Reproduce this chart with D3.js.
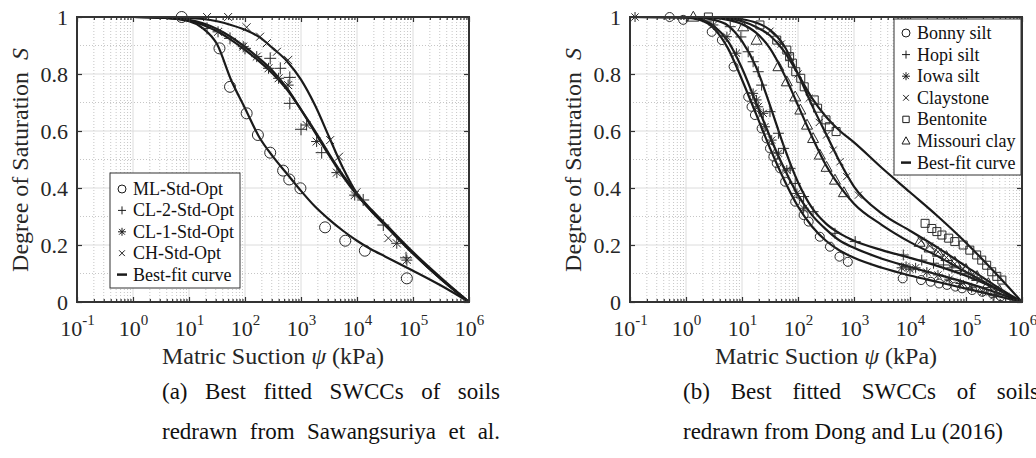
<!DOCTYPE html>
<html>
<head>
<meta charset="utf-8">
<script src="https://cdn.jsdelivr.net/npm/d3@7"></script>
<style>
  body { margin: 0; background: #fff; width: 1036px; height: 458px; overflow: hidden; position: relative;
         font-family: "Liberation Serif", "Times New Roman", serif; }
  svg text { font-family: "Liberation Serif", "Times New Roman", serif !important; }
  .cap { position: absolute; font-size: 23px; color: #111; line-height: 40px; white-space: nowrap; }
  .cap div { text-align: justify; text-align-last: justify; white-space: normal; }
  .cap div.last { text-align-last: left; }
</style>
</head>
<body>
<svg id="chart" width="1036" height="458"></svg>
<div class="cap" style="left:162px; top:372px; width:338px;">
  <div>(a) Best fitted SWCCs of soils</div>
  <div>redrawn from Sawangsuriya et al.</div>
</div>
<div class="cap" style="left:683px; top:372px; width:356px;">
  <div>(b) Best fitted SWCCs of soils</div>
  <div class="last">redrawn from Dong and Lu (2016)</div>
</div>
<script>
// ---- panel (a): Sawangsuriya et al. ----
// suction values (kPa) at which the best-fit curves were read
var psiA = [0.1, 1, 3.16, 10, 17.8, 31.6, 56.2, 100, 178, 316, 562, 1000, 1780, 3160, 5620, 10000, 17800, 31600, 100000, 316000, 1000000];
var fitML  = [1, 1, 0.998, 0.985, 0.96, 0.905, 0.78, 0.68, 0.58, 0.51, 0.45, 0.39, 0.335, 0.29, 0.25, 0.215, 0.185, 0.16, 0.11, 0.058, 0];
var fitCL2 = [1, 1, 0.998, 0.99, 0.978, 0.958, 0.93, 0.895, 0.855, 0.81, 0.75, 0.675, 0.595, 0.515, 0.44, 0.375, 0.32, 0.27, 0.17, 0.08, 0];
var fitCL1 = [1, 1, 0.998, 0.988, 0.972, 0.95, 0.92, 0.885, 0.845, 0.8, 0.745, 0.675, 0.6, 0.52, 0.445, 0.38, 0.325, 0.275, 0.175, 0.085, 0];
var fitCH  = [1, 1, 0.999, 0.997, 0.993, 0.985, 0.972, 0.955, 0.93, 0.89, 0.845, 0.78, 0.69, 0.58, 0.47, 0.38, 0.32, 0.27, 0.17, 0.08, 0];

// measured points [suction, S]
var ptsML  = [[7.4,1.0],[35,0.89],[54,0.755],[107,0.662],[170,0.586],[282,0.524],[479,0.461],[617,0.43],[977,0.399],[2690,0.262],[6170,0.215],[13800,0.18],[77600,0.083]];
var ptsCL2 = [[21,0.96],[54,0.925],[100,0.89],[282,0.855],[427,0.82],[631,0.788],[631,0.697],[1000,0.606],[2340,0.524],[12900,0.358],[29500,0.27],[75000,0.155]];
var ptsCL1 = [[33,0.948],[93,0.896],[162,0.861],[263,0.82],[398,0.785],[589,0.761],[1260,0.621],[1900,0.563],[4370,0.454],[9100,0.375],[51300,0.206],[77600,0.147]];
var ptsCH  = [[21,1.0],[50,1.0],[107,0.964],[186,0.931],[245,0.908],[372,0.878],[589,0.849],[3310,0.568],[4790,0.51],[9800,0.385],[36300,0.224]];

// ---- panel (b): Dong and Lu (2016) ----
var psiB = [0.1, 1, 1.78, 3.16, 5.62, 10, 17.8, 31.6, 56.2, 100, 178, 316, 562, 1000, 3160, 10000, 31600, 100000, 316000, 1000000];
var fitBonny     = [1, 0.998, 0.99, 0.96, 0.89, 0.78, 0.66, 0.54, 0.43, 0.335, 0.265, 0.215, 0.18, 0.155, 0.12, 0.093, 0.07, 0.047, 0.024, 0];
var fitHopi      = [1, 1, 0.997, 0.99, 0.97, 0.915, 0.825, 0.69, 0.545, 0.42, 0.33, 0.275, 0.24, 0.215, 0.182, 0.155, 0.126, 0.092, 0.05, 0];
var fitIowa      = [1, 0.999, 0.993, 0.968, 0.915, 0.82, 0.70, 0.58, 0.47, 0.375, 0.305, 0.255, 0.215, 0.19, 0.152, 0.123, 0.096, 0.068, 0.036, 0];
var fitClaystone = [1, 1, 1, 0.999, 0.997, 0.992, 0.98, 0.955, 0.9, 0.8, 0.69, 0.59, 0.49, 0.405, 0.31, 0.25, 0.19, 0.125, 0.06, 0];
var fitBentonite = [1, 1, 1, 0.999, 0.995, 0.985, 0.965, 0.935, 0.88, 0.8, 0.715, 0.65, 0.6, 0.56, 0.47, 0.385, 0.3, 0.208, 0.107, 0];
var fitMissouri  = [1, 1, 0.999, 0.997, 0.99, 0.975, 0.945, 0.89, 0.8, 0.69, 0.58, 0.48, 0.405, 0.345, 0.27, 0.21, 0.16, 0.105, 0.052, 0];

var ptsBonny = [[0.51,1.0],[0.89,0.99],[2.88,0.948],[4.37,0.919],[7.08,0.826],[12.9,0.72],[14.8,0.685],[17,0.656],[22.4,0.609],[27.5,0.574],[31.6,0.539],[36.3,0.51],[41.7,0.487],[47.9,0.469],[58.9,0.422],[89.1,0.352],[126,0.305],[155,0.282],[245,0.229],[372,0.194],[550,0.159],[776,0.141],
  [7410,0.083],[15800,0.077],[23400,0.071],[33100,0.065],[45700,0.06],[64600,0.054],[85100,0.048],[129000,0.042],[195000,0.036],[295000,0.03],[417000,0.02]];
var ptsHopi = [[6.17,0.966],[9.55,0.93],[12.9,0.878],[15.8,0.843],[19.5,0.808],[22.4,0.761],[31.6,0.668],[44.7,0.592],[55,0.539],[72.4,0.469],[89.1,0.416],[126,0.37],[186,0.317],[457,0.241],[1050,0.212],
  [7590,0.165],[16200,0.147],[26300,0.136],[39800,0.13],[56200,0.12],[79400,0.11],[112000,0.098],[158000,0.085]];
var ptsIowa = [[0.123,1.0],[3.09,0.972],[5.37,0.931],[7.94,0.873],[15.8,0.732],[18.2,0.709],[19.5,0.685],[24,0.662],[25.7,0.615],[33.9,0.568],[44.7,0.522],[63.1,0.463],[95.5,0.381],[126,0.329],
  [7080,0.12],[8510,0.125],[10000,0.115],[12600,0.12],[20000,0.105],[31600,0.095],[50100,0.08],[79400,0.065],[126000,0.05],[200000,0.035],[316000,0.022]];
var ptsClaystone = [[31.6,0.95],[50.1,0.905],[70.8,0.86],[100,0.8],[158,0.715],[240,0.63],[324,0.586],[427,0.533],[562,0.492],[741,0.44],[1200,0.375],
  [15800,0.215],[22400,0.197],[31600,0.176],[44700,0.156],[63100,0.134],[89100,0.116],[126000,0.094],[178000,0.076],[251000,0.055],[355000,0.036]];
var ptsBentonite = [[2.51,1.0],[20.9,0.972],[41.7,0.919],[63.1,0.884],[70.8,0.861],[79.4,0.838],[91.2,0.808],[112,0.785],[129,0.755],[195,0.709],[224,0.68],[316,0.639],[363,0.615],[479,0.598],
  [18600,0.276],[24500,0.258],[30200,0.247],[37200,0.235],[49000,0.224],[63100,0.212],[89100,0.2],[117000,0.182],[155000,0.165],[191000,0.147],[234000,0.129],[288000,0.106],[355000,0.09],[437000,0.077]];
var ptsMissouri = [[1.35,1.0],[10.5,0.966],[18.2,0.919],[44.7,0.826],[63.1,0.773],[89.1,0.72],[110,0.674],[145,0.621],[186,0.574],[245,0.516],[324,0.473],[457,0.428],[661,0.384],
  [14800,0.21],[22400,0.19],[31600,0.175],[44700,0.16],[63100,0.14],[100000,0.115],[158000,0.09],[251000,0.065],[398000,0.04]];

var xDecades = [0.1, 1, 10, 100, 1000, 10000, 100000, 1000000];
var xExponents = ['-1', '0', '1', '2', '3', '4', '5', '6'];
var yTicks = [0, 0.2, 0.4, 0.6, 0.8, 1];

var ink = '#262626';

// marker shapes, stroked
function markerPath(type, r) {
  var p = d3.path();
  if (type == 'circle') { p.moveTo(r, 0); p.arc(0, 0, r, 0, 2 * Math.PI); }
  if (type == 'plus' || type == 'star') { p.moveTo(-r, 0); p.lineTo(r, 0); p.moveTo(0, -r); p.lineTo(0, r); }
  if (type == 'cross' || type == 'star') { var q = r * 0.72; p.moveTo(-q, -q); p.lineTo(q, q); p.moveTo(-q, q); p.lineTo(q, -q); }
  if (type == 'square') { var s = r * 0.8; p.rect(-s, -s, 2 * s, 2 * s); }
  if (type == 'triangle') { p.moveTo(0, -r * 1.05); p.lineTo(r * 1.0, r * 0.75); p.lineTo(-r * 1.0, r * 0.75); p.closePath(); }
  if (type == 'line') { p.moveTo(-r, 0); p.lineTo(r, 0); }
  return p.toString();
}

var svg = d3.select('#chart');

function drawPanel(ox, cfg) {
  var x = d3.scaleLog().domain([0.1, 1e6]).range([ox, ox + 392]);
  var y = d3.scaleLinear().domain([0, 1]).range([302, 17]);
  var g = svg.append('g');

  // grid
  var minorX = x.ticks().filter(d => xDecades.indexOf(d) < 0);
  var minorY = [0.1, 0.3, 0.5, 0.7, 0.9];
  g.selectAll('.mgx').data(minorX).enter().append('line')
    .attr('x1', d => x(d)).attr('x2', d => x(d)).attr('y1', y(0)).attr('y2', y(1))
    .attr('stroke', '#b8b8b8').attr('stroke-width', 0.8).attr('stroke-dasharray', '1,2');
  g.selectAll('.mgy').data(minorY).enter().append('line')
    .attr('x1', x(0.1)).attr('x2', x(1e6)).attr('y1', d => y(d)).attr('y2', d => y(d))
    .attr('stroke', '#b8b8b8').attr('stroke-width', 0.8).attr('stroke-dasharray', '1,2');
  g.selectAll('.Mgx').data(xDecades).enter().append('line')
    .attr('x1', d => x(d)).attr('x2', d => x(d)).attr('y1', y(0)).attr('y2', y(1))
    .attr('stroke', '#dcdcdc').attr('stroke-width', 1);
  g.selectAll('.Mgy').data(yTicks).enter().append('line')
    .attr('x1', x(0.1)).attr('x2', x(1e6)).attr('y1', d => y(d)).attr('y2', d => y(d))
    .attr('stroke', '#dcdcdc').attr('stroke-width', 1);

  // best-fit curves
  var line = d3.line().x(d => x(d[0])).y(d => y(d[1])).curve(d3.curveMonotoneX);
  cfg.fits.forEach(f => {
    g.append('path').datum(cfg.psi.map((p, i) => [p, f[i]]))
      .attr('d', line).attr('fill', 'none').attr('stroke', '#1a1a1a').attr('stroke-width', 2.2);
  });

  // measured points
  cfg.series.forEach(s => {
    g.append('g').selectAll('path').data(s.pts).enter().append('path')
      .attr('transform', d => 'translate(' + x(d[0]) + ',' + y(d[1]) + ')')
      .attr('d', markerPath(s.shape, s.r))
      .attr('fill', 'none').attr('stroke', '#2a2a2a').attr('stroke-width', 1);
  });

  // axes, ticks pointing inward
  var bottom = g.append('g').attr('transform', 'translate(0,302)')
    .call(d3.axisBottom(x).tickValues(xDecades).tickSize(-5).tickPadding(11).tickFormat(''));
  bottom.selectAll('.tick text').each(function(d, i) {
    var t = d3.select(this).attr('font-size', 22).attr('fill', ink).attr('dy', '1.05em');
    t.append('tspan').text('10');
    t.append('tspan').attr('font-size', 15).attr('dy', '-0.75em').text(xExponents[i]);
  });
  g.append('g').attr('transform', 'translate(0,302)')
    .call(d3.axisBottom(x).tickValues(minorX).tickSize(-3).tickFormat(''));
  g.append('g').attr('transform', 'translate(0,17)')
    .call(d3.axisTop(x).tickValues(xDecades).tickSize(-5).tickFormat(''));
  g.append('g').attr('transform', 'translate(0,17)')
    .call(d3.axisTop(x).tickValues(minorX).tickSize(-3).tickFormat(''));
  g.append('g').attr('transform', 'translate(' + ox + ',0)')
    .call(d3.axisLeft(y).tickValues(yTicks).tickSize(-5).tickPadding(9).tickFormat(d => String(+d.toFixed(1))))
    .selectAll('text').attr('font-size', 22).attr('fill', ink);
  g.append('g').attr('transform', 'translate(' + (ox + 392) + ',0)')
    .call(d3.axisRight(y).tickValues(yTicks).tickSize(-5).tickFormat(''));
  g.selectAll('.domain').remove();
  g.selectAll('.tick line').attr('stroke', '#333').attr('stroke-width', 1.2);

  g.append('rect').attr('x', ox).attr('y', 17).attr('width', 392).attr('height', 285)
    .attr('fill', 'none').attr('stroke', '#333').attr('stroke-width', 2);

  // axis titles
  var yl = g.append('text').attr('transform', 'translate(' + (ox - 49) + ',160) rotate(-90)')
    .attr('text-anchor', 'middle').attr('font-size', 24).attr('fill', ink);
  yl.append('tspan').text('Degree of Saturation\u00a0\u00a0');
  yl.append('tspan').attr('font-style', 'italic').text('S');
  var xl = g.append('text').attr('x', ox + 196).attr('y', 364)
    .attr('text-anchor', 'middle').attr('font-size', 24).attr('fill', ink);
  xl.append('tspan').text('Matric Suction ');
  xl.append('tspan').attr('font-style', 'italic').text('\u03c8');
  xl.append('tspan').text(' (kPa)');

  // legend
  var L = cfg.legend;
  var lg = g.append('g').attr('transform', 'translate(' + L.x + ',' + L.y + ')');
  lg.append('rect').attr('width', L.w).attr('height', L.h)
    .attr('fill', '#fff').attr('stroke', '#333').attr('stroke-width', 1);
  L.items.forEach((it, i) => {
    var cy = L.top + i * L.step;
    lg.append('path').attr('transform', 'translate(' + L.mx + ',' + cy + ')')
      .attr('d', markerPath(it[1], it[1] == 'line' ? 5 : 4))
      .attr('fill', 'none').attr('stroke', '#1a1a1a')
      .attr('stroke-width', it[1] == 'line' ? 2.5 : 1);
    lg.append('text').attr('x', L.tx).attr('y', cy + 6)
      .attr('font-size', 18).attr('fill', '#111').text(it[0]);
  });
}

drawPanel(77, {
  psi: psiA,
  fits: [fitML, fitCL2, fitCL1, fitCH],
  series: [
    { pts: ptsML, shape: 'circle', r: 5.5 },
    { pts: ptsCL2, shape: 'plus', r: 6 },
    { pts: ptsCL1, shape: 'star', r: 5.5 },
    { pts: ptsCH, shape: 'cross', r: 5.5 }
  ],
  legend: { x: 110, y: 173, w: 130, h: 115, top: 16, step: 21.4, mx: 12, tx: 23,
    items: [['ML-Std-Opt', 'circle'], ['CL-2-Std-Opt', 'plus'], ['CL-1-Std-Opt', 'star'], ['CH-Std-Opt', 'cross'], ['Best-fit curve', 'line']] }
});

drawPanel(630, {
  psi: psiB,
  fits: [fitBonny, fitHopi, fitIowa, fitClaystone, fitBentonite, fitMissouri],
  series: [
    { pts: ptsBonny, shape: 'circle', r: 4.5 },
    { pts: ptsHopi, shape: 'plus', r: 5.5 },
    { pts: ptsIowa, shape: 'star', r: 5 },
    { pts: ptsClaystone, shape: 'cross', r: 5 },
    { pts: ptsBentonite, shape: 'square', r: 5 },
    { pts: ptsMissouri, shape: 'triangle', r: 5.5 }
  ],
  legend: { x: 894, y: 19, w: 127, h: 156, top: 14, step: 21.6, mx: 12, tx: 23,
    items: [['Bonny silt', 'circle'], ['Hopi silt', 'plus'], ['Iowa silt', 'star'], ['Claystone', 'cross'], ['Bentonite', 'square'], ['Missouri clay', 'triangle'], ['Best-fit curve', 'line']] }
});
</script>
</body>
</html>
